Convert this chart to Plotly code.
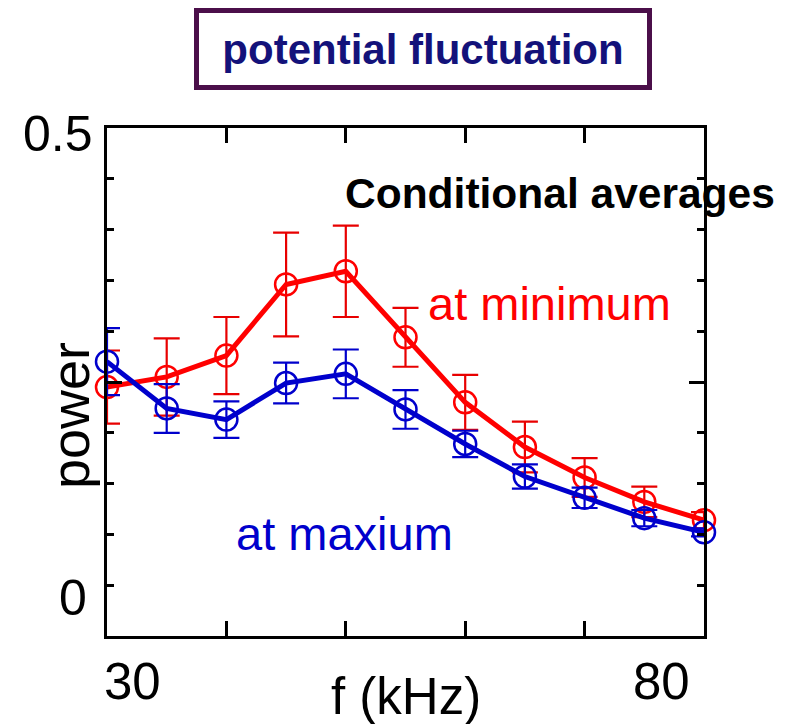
import plotly.graph_objects as go

# ---- data ----
freq_khz = [30, 35, 40, 45, 50, 55, 60, 65, 70, 75, 80]
power_at_minimum = [0.245, 0.255, 0.276, 0.346, 0.359, 0.294, 0.230, 0.186, 0.156, 0.132, 0.114]
err_at_minimum = [0.036, 0.038, 0.038, 0.051, 0.045, 0.029, 0.027, 0.025, 0.019, 0.015, 0.008]
power_at_maximum = [0.270, 0.224, 0.213, 0.249, 0.258, 0.223, 0.189, 0.157, 0.136, 0.116, 0.102]
err_at_maximum = [0.033, 0.024, 0.018, 0.020, 0.024, 0.019, 0.013, 0.012, 0.010, 0.008, 0.004]

x_tick_labels = ["30", "80"]
y_tick_labels = ["0.5", "0"]

FONT = "Arial, Liberation Sans, sans-serif"
RED = "#ff0000"
RED_ERR = "#e80000"
BLUE = "#0000cc"

fig = go.Figure()

fig.add_trace(go.Scatter(
    x=freq_khz, y=power_at_minimum, mode="lines+markers", name="at minimum",
    line=dict(color=RED, width=5),
    marker=dict(symbol="circle-open", size=22, color=RED, line=dict(width=2.5, color=RED)),
    error_y=dict(type="data", array=err_at_minimum, visible=True,
                 color=RED_ERR, thickness=2.2, width=13),
    cliponaxis=False,
))
fig.add_trace(go.Scatter(
    x=freq_khz, y=power_at_maximum, mode="lines+markers", name="at maxium",
    line=dict(color=BLUE, width=5),
    marker=dict(symbol="circle-open", size=22, color=BLUE, line=dict(width=2.5, color=BLUE)),
    error_y=dict(type="data", array=err_at_maximum, visible=True,
                 color=BLUE, thickness=2.2, width=13),
    cliponaxis=False,
))

fig.update_xaxes(
    range=[30, 80], showgrid=False, zeroline=False,
    showline=True, linecolor="black", linewidth=3, mirror="allticks",
    ticks="inside", tickvals=[40, 50, 60, 70], ticklen=15, tickwidth=2.5, tickcolor="black",
    showticklabels=False,
)
fig.update_yaxes(
    range=[0, 0.5], showgrid=False, zeroline=False,
    showline=True, linecolor="black", linewidth=3, mirror="allticks",
    ticks="inside", tickvals=[0, 0.25, 0.5], ticklen=15, tickwidth=2.5, tickcolor="black",
    minor=dict(ticks="inside", dtick=0.05, tick0=0, ticklen=7, tickwidth=2.5, tickcolor="black", showgrid=False),
    showticklabels=False,
)

ann = []
def text(x, y, s, size, color="black", bold=False, xanchor="center", yanchor="middle", **kw):
    ann.append(dict(x=x, y=y, xref="paper", yref="paper", text=(f"<b>{s}</b>" if bold else s),
                    showarrow=False, xanchor=xanchor, yanchor=yanchor,
                    font=dict(family=FONT, size=size, color=color), **kw))

# manually placed tick labels as in the slide
text(-0.020, 0.988, y_tick_labels[0], 50, xanchor="right")
text(-0.030, 0.075, y_tick_labels[1], 50, xanchor="right")
text(0.0435, -0.089, x_tick_labels[0], 51)
text(0.928, -0.089, x_tick_labels[1], 51)
# axis titles
text(0.5008, -0.12, "f (kHz)", 51)
text(-0.062, 0.435, "power", 54, textangle=-90)
# in-plot labels
text(0.3960, 0.872, "Conditional averages", 42.5, bold=True, xanchor="left")
text(0.5345, 0.654, "at minimum", 47, color=RED, xanchor="left")
text(0.2130, 0.201, "at maxium", 47, color=BLUE, xanchor="left")
# boxed title
text(0.529, 1.1555, "potential fluctuation", 42, color="#13127a", bold=True,
     bordercolor="#4b0f4a", borderwidth=5, borderpad=0, bgcolor="white", width=448, height=72)

fig.update_layout(
    width=799, height=724,
    margin=dict(l=107, r=95, t=128, b=88),
    paper_bgcolor="white", plot_bgcolor="white",
    showlegend=False,
    annotations=ann,
)

fig.write_html("out.html")
